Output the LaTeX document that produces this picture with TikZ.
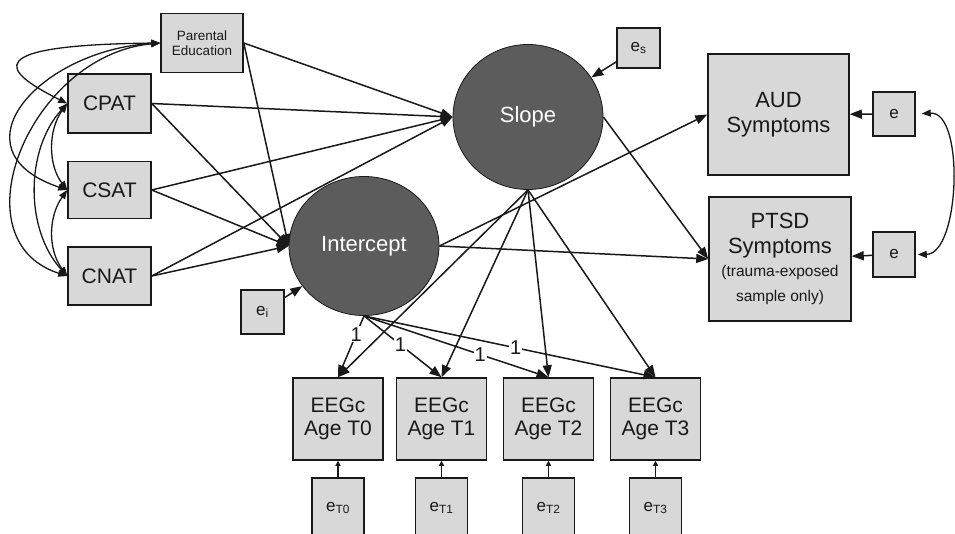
\documentclass[tikz,border=0pt]{standalone}
\usepackage{fontspec}
\setmainfont{Liberation Sans}
\usetikzlibrary{arrows.meta,shapes.geometric}
\definecolor{boxgray}{RGB}{216,216,216}
\definecolor{latentgray}{RGB}{92,92,92}
\definecolor{inkgray}{RGB}{25,25,25}

\tikzset{
  obs/.style={draw=inkgray, fill=boxgray, line width=1.5pt, align=center, inner sep=0pt, text=inkgray},
  bigtxt/.style={font=\fontsize{21}{23}\selectfont},
  errbox/.style={obs, font=\fontsize{17}{19}\selectfont},
  lat/.style={draw=inkgray, fill=latentgray, ellipse, text=white, line width=0.8pt, inner sep=0pt, font=\fontsize{22}{24}\selectfont},
  reg/.style={draw=inkgray, line width=1.5pt, -{Triangle[length=12pt,width=9pt]}},
  smallreg/.style={draw=inkgray, line width=1.4pt, -{Triangle[length=5pt,width=5pt]}},
  cov/.style={draw=inkgray, line width=1.3pt, {Triangle[length=9pt,width=7pt]}-{Triangle[length=9pt,width=7pt]}},
  one/.style={fill=white, inner sep=1pt, text=inkgray, font=\fontsize{20}{22}\selectfont},
}

\begin{document}
\begin{tikzpicture}[x=1pt,y=-1pt]
  \clip (0,0) rectangle (955,534);

  % predictors
  \node[obs, minimum width=82, minimum height=59, font=\fontsize{13.5}{15}\selectfont] (pe) at (202,43) {Parental\\Education};
  \node[obs, bigtxt, minimum width=83, minimum height=59] (cpat) at (109.5,103.5) {CPAT};
  \node[obs, bigtxt, minimum width=83, minimum height=57] (csat) at (109.5,190) {CSAT};
  \node[obs, bigtxt, minimum width=83, minimum height=58] (cnat) at (109.5,276) {CNAT};

  % growth factors
  \node[lat, minimum width=150, minimum height=145] (slope) at (528,117) {Slope};
  \node[lat, minimum width=150, minimum height=139] (icept) at (364,246) {Intercept};
  \node[errbox, minimum width=43, minimum height=40] (es) at (638.5,48) {e\textsubscript{s}};
  \node[errbox, minimum width=43, minimum height=44] (ei) at (262.5,312) {e\textsubscript{i}};

  % outcomes
  \node[obs, minimum width=141, minimum height=121, font=\fontsize{22}{25}\selectfont] (aud) at (778.5,114.5) {AUD\\Symptoms};
  \node[obs, minimum width=142, minimum height=124, font=\fontsize{22}{25}\selectfont] (ptsd) at (780,259)
    {PTSD\\Symptoms\\[-2pt]\fontsize{15.5}{17}\selectfont (trauma-exposed\\\fontsize{15.5}{17}\selectfont sample only)};
  \node[errbox, minimum width=42, minimum height=44] (ea) at (894,114) {e};
  \node[errbox, minimum width=42, minimum height=45] (ep) at (894,254.5) {e};

  % repeated EEGc measures
  \foreach \t/\x in {0/338,1/441.5,2/548.5,3/655.5} {
    \node[obs, bigtxt, minimum width=90, minimum height=82] (eeg\t) at (\x,419) {EEGc\\Age T\t};
    \node[errbox, minimum width=52, minimum height=60] (et\t) at (\x,508) {e\textsubscript{T\t}};
    \draw[smallreg] (et\t) -- (eeg\t);
  }

  % predictors -> growth factors
  \foreach \p in {pe,cpat,csat,cnat} {
    \draw[reg] (\p.east) -- (slope.west);
    \draw[reg] (\p.east) -- (icept.west);
  }

  % covariances among predictors
  \draw[cov] (pe.west) .. controls (-20,45) and (0,70) .. (cpat.west);
  \draw[cov] (pe.west) .. controls (40,50) and (-50,150) .. (csat.west);
  \draw[cov] (pe.west) .. controls (30,55) and (-45,240) .. (cnat.west);
  \draw[cov] (cpat.west) .. controls (48,130) and (48,165) .. (csat.west);
  \draw[cov] (csat.west) .. controls (48,217) and (48,250) .. (cnat.west);
  \draw[cov] (cpat.west) .. controls (25,150) and (25,230) .. (cnat.west);

  % residuals of growth factors
  \draw[reg] (es) -- (slope);
  \draw[reg] (ei) -- (icept);

  % growth factors -> outcomes
  \draw[reg] (icept.east) -- (aud.west);
  \draw[reg] (icept.east) -- (ptsd.west);
  \draw[reg] (slope.east) -- (ptsd.west);
  \draw[reg] (ea) -- (aud);
  \draw[reg] (ep) -- (ptsd);
  \draw[cov, shorten <=6pt, shorten >=2pt] (ea.east) .. controls (965,111) and (960,254) .. (ep.east);

  % loadings
  \foreach \t in {0,...,3}
    \draw[reg] (slope.south) -- (eeg\t.north);
  \draw[reg] (icept.south) -- node[one, pos=0.3] {1} (eeg0.north);
  \draw[reg] (icept.south) -- node[one, pos=0.47] {1} (eeg1.north);
  \draw[reg] (icept.south) -- node[one, pos=0.63] {1} (eeg2.north);
  \draw[reg] (icept.south) -- node[one, pos=0.52] {1} (eeg3.north);
\end{tikzpicture}
\end{document}
